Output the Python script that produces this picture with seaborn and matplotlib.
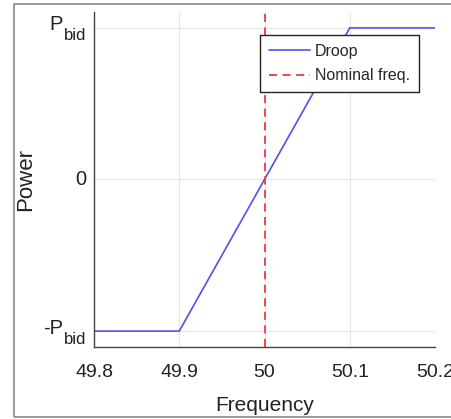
import numpy as np
import pandas as pd
import matplotlib
matplotlib.use("Agg")
import matplotlib.pyplot as plt
import seaborn as sns
from matplotlib.patches import Rectangle

freq = [49.8, 49.9, 50.1, 50.2]
power = [-1, -1, 1, 1]
nominal = 50
xticks = [49.8, 49.9, 50, 50.1, 50.2]
xtick_labels = ['49.8', '49.9', '50', '50.1', '50.2']
yticks = [-1, 0, 1]
ytick_main = ['-P', '0', 'P']
ytick_sub = ['bid', '', 'bid']

sns.set_style("white")
plt.rcParams['font.family'] = ['Liberation Sans', 'DejaVu Sans']

df = pd.DataFrame({'Frequency': freq, 'Power': power})

fig = plt.figure(figsize=(4.52, 4.19), dpi=100)
ax = fig.add_axes([94 / 452, 1 - 347 / 419, (435 - 94) / 452, (347 - 12) / 419])

sns.lineplot(data=df, x='Frequency', y='Power', color='#5050f0', lw=1.2, ax=ax, label='Droop')
ax.axvline(nominal, color='#ee3b3b', ls=(0, (4.5, 3)), lw=1.3, label='Nominal freq.')

ax.set_xlim(49.8, 50.2)
ax.set_ylim(-1.105, 1.105)
ax.set_xticks(xticks)
ax.set_xticklabels(xtick_labels)
ax.set_yticks(yticks)
ax.set_yticklabels([''] * len(yticks))
ax.grid(True, color='#e6e6e6', lw=0.8)
ax.tick_params(direction='in', length=4, labelsize=14, colors='#222222', width=0.8)
ax.tick_params(axis='x', pad=12)
for side in ['top', 'right']:
    ax.spines[side].set_visible(False)
for side in ['left', 'bottom']:
    ax.spines[side].set_color('#444444')
    ax.spines[side].set_linewidth(1.0)

# y tick labels with a low, large subscript (MATLAB style)
for yv, main, sub in zip(yticks, ytick_main, ytick_sub):
    if sub:
        ax.annotate(sub, xy=(0, yv), xycoords=('axes fraction', 'data'),
                    xytext=(-8, -8), textcoords='offset pixels',
                    ha='right', va='center', fontsize=12, color='#222222')
        ax.annotate(main, xy=(0, yv), xycoords=('axes fraction', 'data'),
                    xytext=(-31, 3), textcoords='offset pixels',
                    ha='right', va='center', fontsize=14.5, color='#222222')
    else:
        ax.annotate(main, xy=(0, yv), xycoords=('axes fraction', 'data'),
                    xytext=(-8, 0), textcoords='offset pixels',
                    ha='right', va='center', fontsize=14.5, color='#222222')

ax.set_xlabel('Frequency', fontsize=15, color='#222222', labelpad=11)
ax.set_ylabel('Power', fontsize=16, color='#222222', labelpad=38)

leg = ax.legend(loc='upper left', bbox_to_anchor=((260 - 94) / 341, 1 - (35 - 12) / 335),
                borderaxespad=0, fontsize=11.5, fancybox=False, framealpha=1,
                edgecolor='#222222', handlelength=2.6, borderpad=0.55,
                labelspacing=0.6, handletextpad=0.3)
leg.get_frame().set_linewidth(1.0)

fig.patches.append(Rectangle((14 / 452, 1 - 417 / 419), 1.5, (417 - 4) / 419,
                             transform=fig.transFigure, fill=False,
                             edgecolor='#888888', lw=1.2))

fig.savefig('out.png', dpi=100)
